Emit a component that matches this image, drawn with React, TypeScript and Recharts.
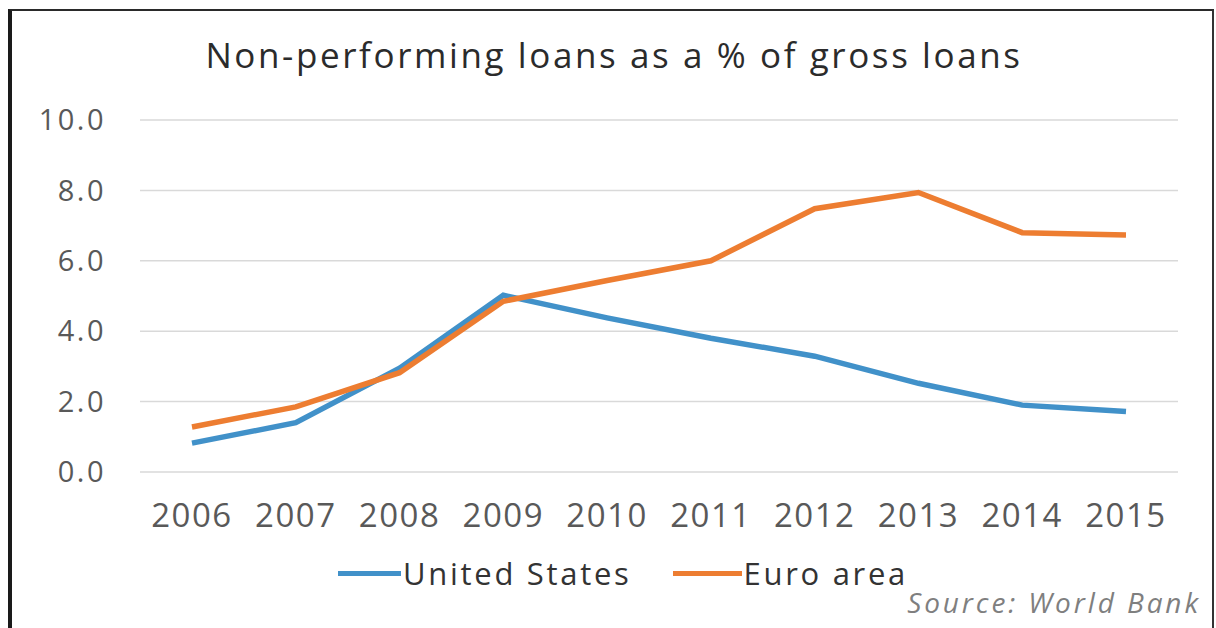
import { LineChart, Line, XAxis, YAxis, CartesianGrid } from "recharts";

const years = ["2006", "2007", "2008", "2009", "2010", "2011", "2012", "2013", "2014", "2015"];
const unitedStates = [0.82, 1.4, 2.95, 5.02, 4.38, 3.8, 3.29, 2.52, 1.9, 1.72];
const euroArea = [1.28, 1.85, 2.82, 4.85, 5.44, 6.0, 7.48, 7.94, 6.8, 6.73];
const yTicks = [0, 2, 4, 6, 8, 10];

const series = [
  { key: "us", name: "United States", color: "#4191c9", values: unitedStates },
  { key: "euro", name: "Euro area", color: "#ed7d31", values: euroArea },
];

const chartData = years.map((year, i) => {
  const row: Record<string, string | number> = { year };
  series.forEach(s => {
    row[s.key] = s.values[i];
  });
  return row;
});

const font = "'Open Sans', sans-serif";

const App = () => {
  return (
    <div style={{ position: "fixed", left: 0, top: 0, width: 1216, height: 628, background: "#fff", fontFamily: font, overflow: "hidden" }}>
      {/* frame */}
      <div
        style={{
          position: "absolute",
          left: 8,
          top: 9,
          width: 1214 - 8 - 4 - 2,
          height: 640,
          borderLeft: "4px solid #1a1a1a",
          borderTop: "2px solid #2a2a2a",
          borderRight: "2px solid #333",
        }}
      />
      <div
        style={{
          position: "absolute",
          left: 0,
          width: 1228,
          top: 37,
          textAlign: "center",
          fontSize: 35,
          lineHeight: "1",
          letterSpacing: 2.6,
          color: "#2b2b2b",
        }}
      >
        Non-performing loans as a % of gross loans
      </div>
      <div style={{ position: "absolute", left: 0, top: 0 }}>
        <LineChart width={1216} height={628} data={chartData} margin={{ top: 120, right: 38, bottom: 106, left: 60 }}>
          <CartesianGrid vertical={false} stroke="#d9d9d9" strokeWidth={1.5} />
          <XAxis
            dataKey="year"
            height={50}
            tickLine={false}
            axisLine={false}
            tickSize={0}
            tickMargin={32}
            padding={{ left: 52, right: 52 }}
            tick={{ fill: "#595959", fontSize: 33, fontFamily: font, letterSpacing: 1.5 }}
          />
          <YAxis
            width={80}
            domain={[0, 10]}
            ticks={yTicks}
            tickLine={false}
            axisLine={false}
            tickSize={0}
            tickMargin={34}
            tickFormatter={(v: number) => v.toFixed(1)}
            tick={{ fill: "#595959", fontSize: 29, fontFamily: font, letterSpacing: 2.5 }}
          />
          {series.map(s => (
            <Line
              key={s.key}
              type="linear"
              dataKey={s.key}
              name={s.name}
              stroke={s.color}
              strokeWidth={5.5}
              dot={false}
              isAnimationActive={false}
            />
          ))}
        </LineChart>
      </div>
      {/* legend */}
      <div style={{ position: "absolute", left: 338, top: 558, display: "flex", alignItems: "center", fontSize: 31, lineHeight: "1", color: "#333" }}>
        {series.map((s, i) => (
          <div key={s.key} style={{ display: "flex", alignItems: "center", marginLeft: i === 0 ? 0 : 41 }}>
            <span style={{ display: "inline-block", width: i === 0 ? 63 : 69, height: 5, background: s.color, marginRight: 2 }} />
            <span style={{ letterSpacing: 2.7 }}>{s.name}</span>
          </div>
        ))}
      </div>
      <div
        style={{
          position: "absolute",
          right: 15,
          top: 588,
          fontSize: 28,
          lineHeight: "1",
          fontStyle: "italic",
          color: "#7f7f7f",
          letterSpacing: 2.9,
        }}
      >
        Source: World Bank
      </div>
    </div>
  );
};

export default App;
